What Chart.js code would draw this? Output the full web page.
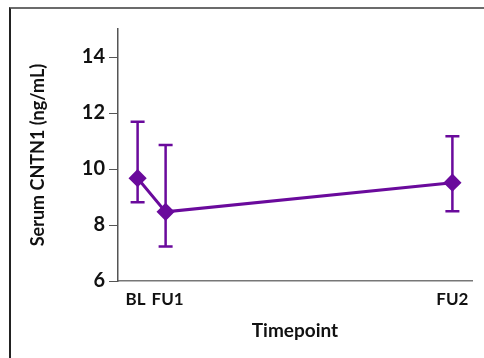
<!DOCTYPE html>
<html>
<head>
<meta charset="utf-8">
<script src="https://cdn.jsdelivr.net/npm/chart.js@4.4.0/dist/chart.umd.min.js"></script>
<style>
  html, body { margin: 0; padding: 0; background: #fff; }
  #wrap { position: relative; width: 484px; height: 358px; overflow: hidden; }
  #frame {
    position: absolute; left: 9px; top: 7px; width: 500px; height: 400px;
    border-top: 2px solid #6b6b6b; border-left: 2px solid #222;
  }
  canvas { position: absolute; left: 0; top: 0; }
</style>
</head>
<body>
<div id="wrap">
  <div id="frame"></div>
  <canvas id="chart" width="484" height="358"></canvas>
</div>
<script>
const timepoints = ["BL", "FU1", "FU2"];
const timeX = [0, 1, 11.24];
const means = [9.67, 8.47, 9.51];
const errLow = [8.81, 7.23, 8.49];
const errHigh = [11.69, 10.86, 11.17];
const yTicks = [6, 8, 10, 12, 14];

const purple = "#6a0a9c";

const errorBars = {
  id: "errorBars",
  beforeDatasetsDraw(chart) {
    const { ctx, scales: { x, y } } = chart;
    ctx.save();
    ctx.strokeStyle = purple;
    ctx.lineWidth = 2.5;
    timeX.forEach((t, i) => {
      const px = x.getPixelForValue(t);
      const top = y.getPixelForValue(errHigh[i]);
      const bot = y.getPixelForValue(errLow[i]);
      ctx.beginPath();
      ctx.moveTo(px, top); ctx.lineTo(px, bot);
      ctx.moveTo(px - 7, top); ctx.lineTo(px + 7, top);
      ctx.moveTo(px - 7, bot); ctx.lineTo(px + 7, bot);
      ctx.stroke();
    });
    ctx.restore();
  }
};

// nudge the two close labels apart a little, like the original
const labelText = (i) => i === 0 ? timepoints[i] + " " : i === 1 ? " " + timepoints[i] : timepoints[i];

new Chart(document.getElementById("chart"), {
  type: "line",
  data: {
    datasets: [{
      data: timeX.map((t, i) => ({ x: t, y: means[i] })),
      borderColor: purple,
      backgroundColor: purple,
      borderWidth: 3,
      pointStyle: "rectRot",
      pointRadius: 7,
      pointHoverRadius: 7,
      tension: 0
    }]
  },
  options: {
    responsive: false,
    animation: false,
    layout: { padding: { top: 29, right: 12, left: 0, bottom: 0 } },
    plugins: { legend: { display: false }, tooltip: { enabled: false } },
    scales: {
      x: {
        type: "linear",
        min: -0.7,
        max: 11.94,
        afterBuildTicks: (s) => { s.ticks = timeX.map(v => ({ value: v })); },
        afterFit: (s) => { s.height = 77; },
        ticks: {
          autoSkip: false,
          maxRotation: 0,
          padding: 8,
          color: "#111",
          font: { family: "Lato", size: 17, weight: "bold" },
          callback: (v) => labelText(timeX.indexOf(v))
        },
        grid: { drawOnChartArea: false, drawTicks: false },
        border: { color: "#777", width: 1.5 },
        title: {
          display: true,
          text: "Timepoint",
          color: "#111",
          font: { family: "Lato", size: 19, weight: "bold" },
          padding: { top: 0, bottom: 16 }
        }
      },
      y: {
        min: 6,
        max: 15,
        afterBuildTicks: (s) => { s.ticks = yTicks.map(v => ({ value: v })); },
        afterFit: (s) => { s.width = 118; },
        ticks: {
          padding: 4,
          color: "#111",
          font: { family: "Lato", size: 20, weight: "bold" }
        },
        grid: { drawOnChartArea: false, drawTicks: true, tickLength: 9, color: "#555" },
        border: { color: "#555", width: 1.5 },
        title: {
          display: true,
          text: "Serum CNTN1 (ng/mL)",
          color: "#111",
          font: { family: "Lato", size: 18, weight: "bold" },
          padding: { top: 27, bottom: 0 }
        }
      }
    }
  },
  plugins: [errorBars]
});
</script>
</body>
</html>
